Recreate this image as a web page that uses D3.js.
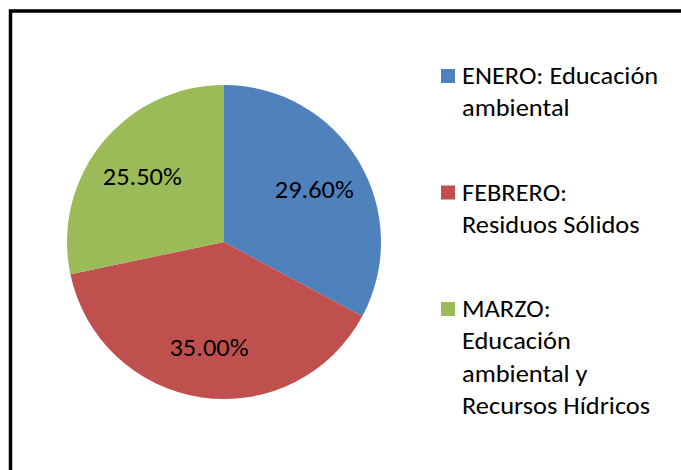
<!DOCTYPE html>
<html>
<head>
<meta charset="utf-8">
<script src="https://cdn.jsdelivr.net/npm/d3@7"></script>
<style>
  html, body { margin: 0; padding: 0; background: #fff; }
  svg { display: block; }
  text { font-family: Carlito, Calibri, "Open Sans", sans-serif; fill: #000; }
</style>
</head>
<body>
<svg id="chart" width="681" height="470"></svg>
<script>
const categories = ["ENERO", "FEBRERO", "MARZO"];
const legendLines = [
  ["ENERO: Educación", "ambiental"],
  ["FEBRERO:", "Residuos Sólidos"],
  ["MARZO:", "Educación", "ambiental y", "Recursos Hídricos"]
];
const values = [29.6, 35.0, 25.5];
const colors = ["#4F81BD", "#C0504D", "#9BBB59"];

const svg = d3.select("#chart");
const W = 681, H = 470;
const sx = 1.1; // horizontal stretch of the original picture

svg.append("rect").attr("width", W).attr("height", H).attr("fill", "#fff");

svg.append("path")
  .attr("d", `M10.5,${H + 5} V11 H${W + 5}`)
  .attr("fill", "none")
  .attr("stroke", "#000")
  .attr("stroke-width", 3.5);

const cx = 224, cy = 242, r = 157;
const color = d3.scaleOrdinal().domain(categories).range(colors);

const pie = d3.pie().sort(null).value(d => d.value);
const data = categories.map((c, i) => ({ cat: c, value: values[i] }));
const arcs = pie(data);

const arc = d3.arc().innerRadius(0).outerRadius(r);
const labelArc = d3.arc().innerRadius(r * 0.67).outerRadius(r * 0.67);

const g = svg.append("g").attr("transform", `translate(${cx},${cy})`);
g.selectAll("path.slice").data(arcs).enter().append("path")
  .attr("class", "slice")
  .attr("d", arc)
  .attr("fill", d => color(d.data.cat));

g.selectAll("text.lbl").data(arcs).enter().append("text")
  .attr("class", "lbl")
  .attr("transform", d => `translate(${labelArc.centroid(d)}) scale(${sx},1)`)
  .attr("text-anchor", "middle")
  .attr("dy", "0.4em")
  .style("font-size", "24px")
  .text(d => d.data.value.toFixed(2) + "%");

const lg = svg.append("g").attr("transform", "translate(441,0)");
const itemY = d3.scalePoint().domain(categories).range([84, 317]);
const lineH = 32.5;
categories.forEach((c, i) => {
  const y0 = itemY(c);
  lg.append("rect")
    .attr("x", 0).attr("y", y0 - 15)
    .attr("width", 14).attr("height", 14)
    .attr("fill", color(c));
  const t = lg.append("text")
    .attr("transform", `translate(21,${y0}) scale(${sx},1)`)
    .style("font-size", "24px");
  legendLines[i].forEach((ln, j) => {
    t.append("tspan").attr("x", 0).attr("y", j * lineH).text(ln);
  });
});
</script>
</body>
</html>
